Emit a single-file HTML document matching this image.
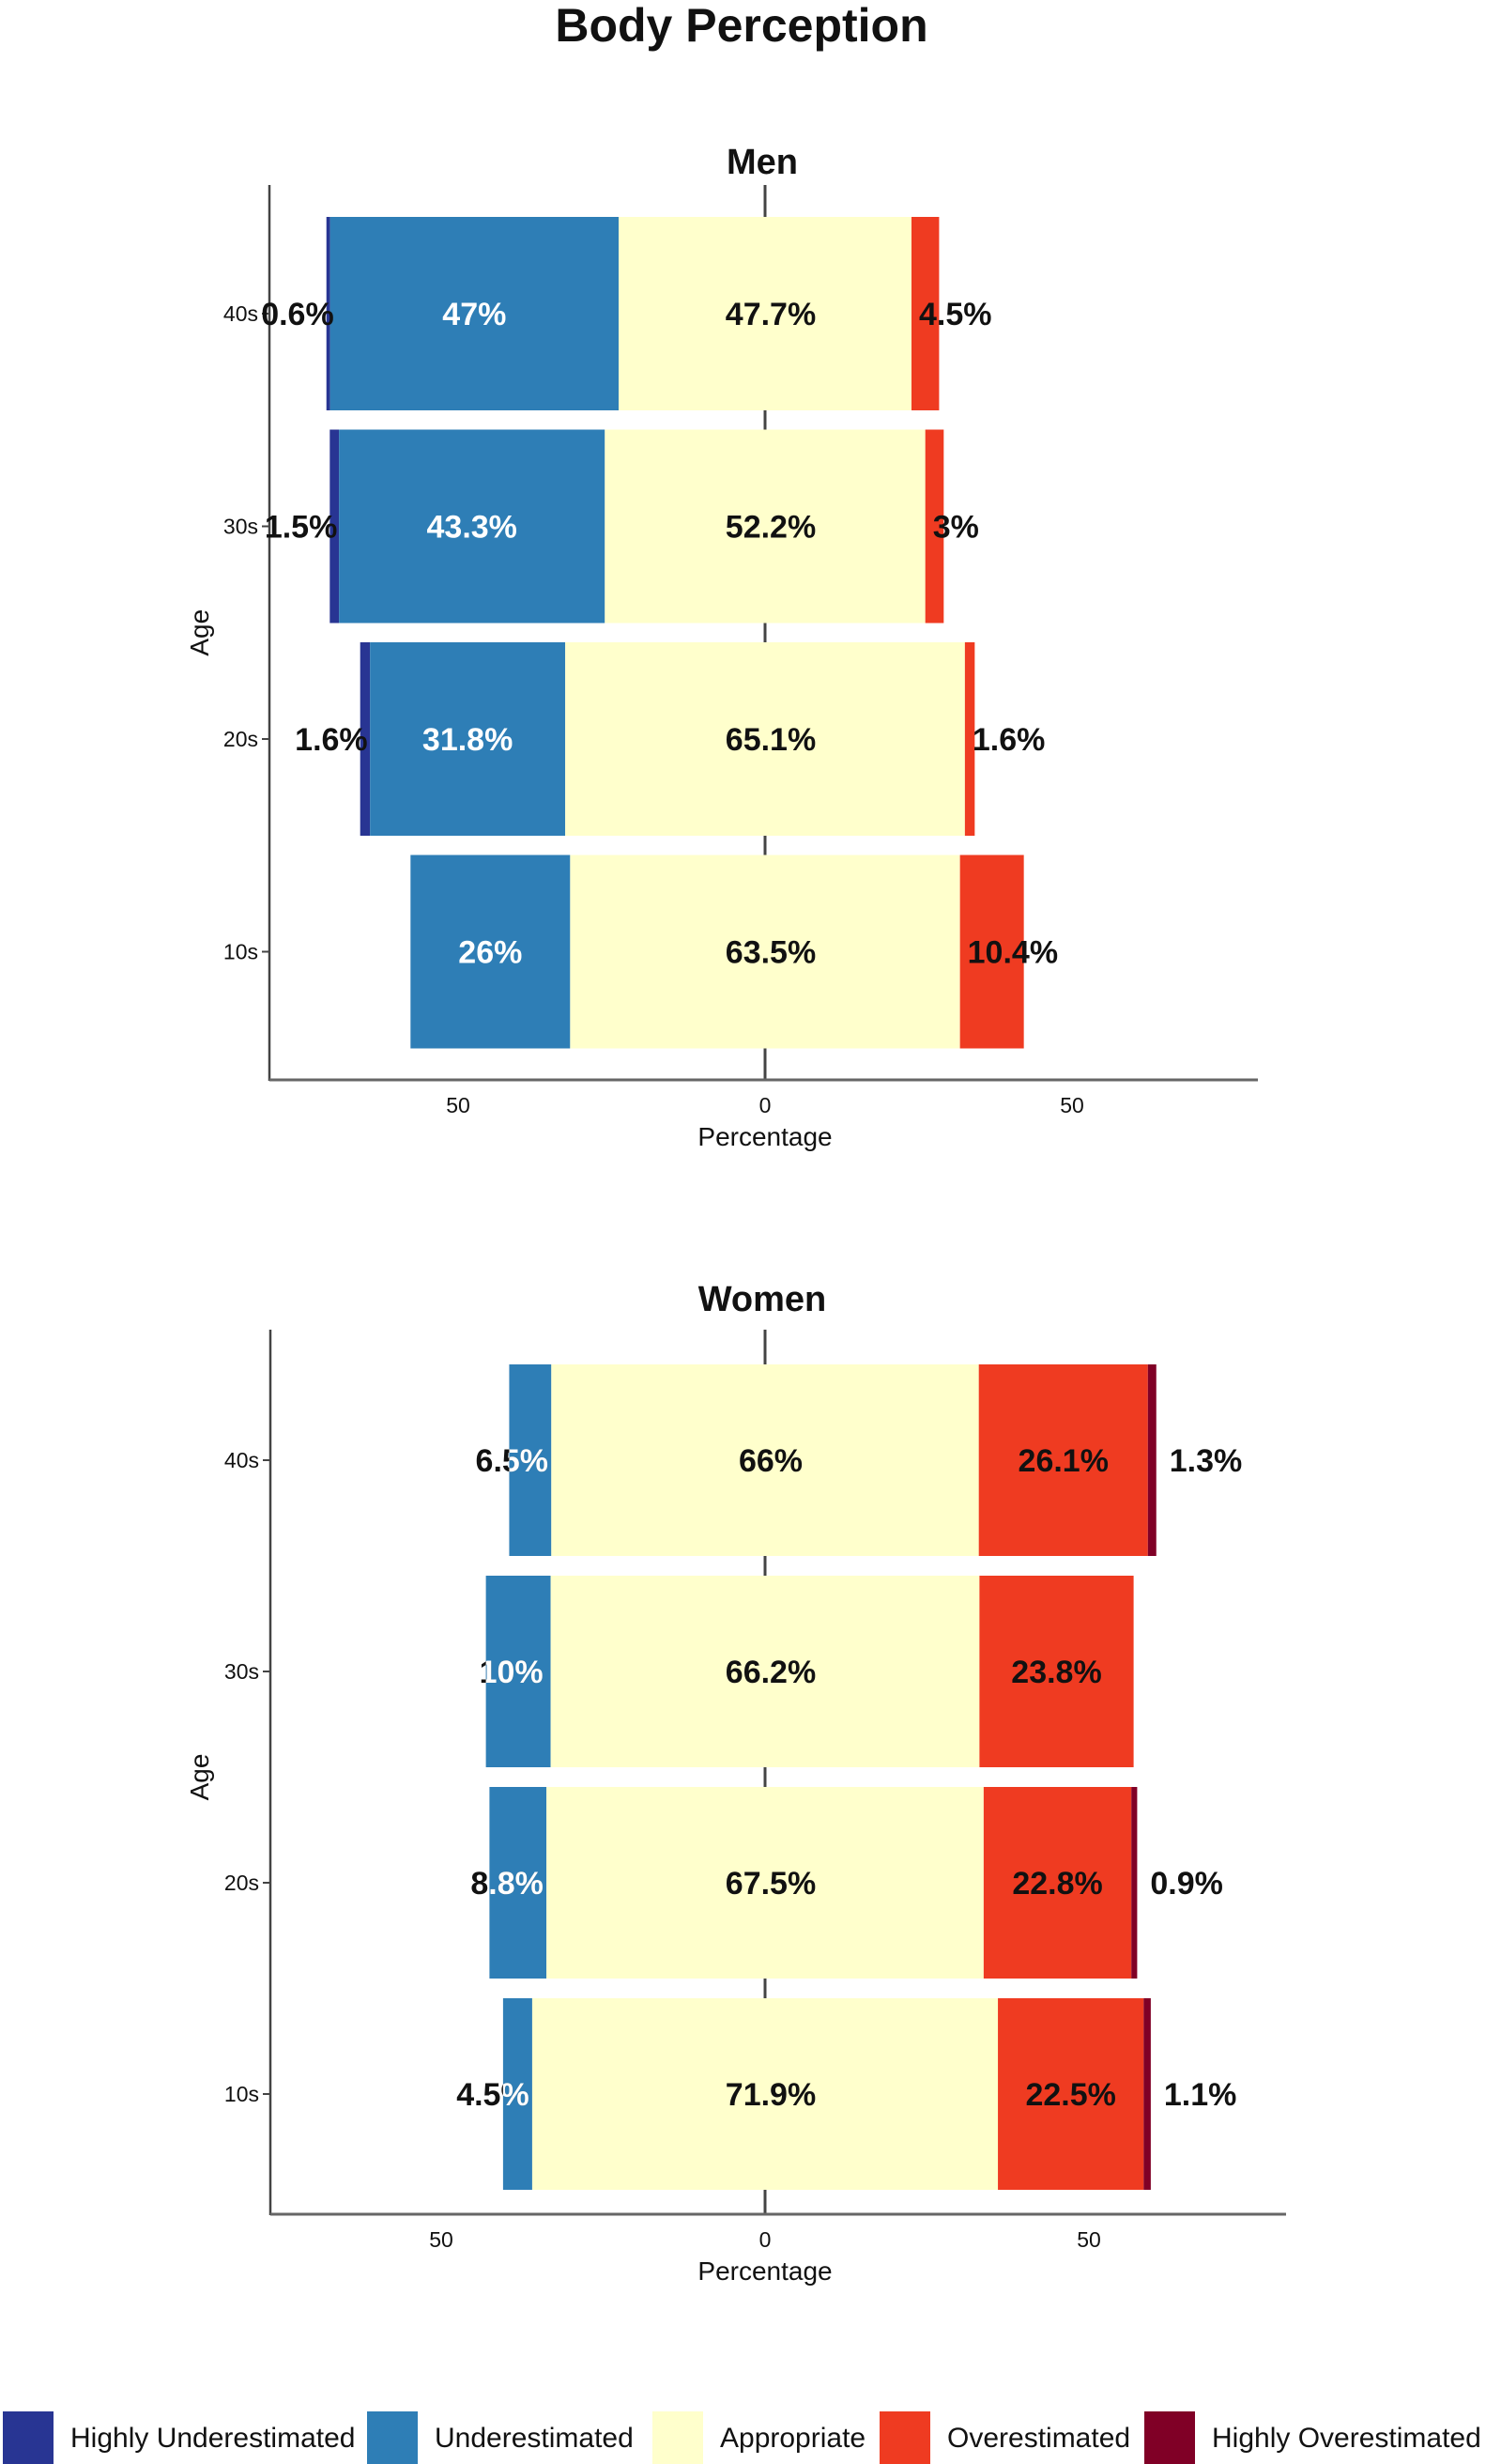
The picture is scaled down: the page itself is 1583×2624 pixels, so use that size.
<!DOCTYPE html>
<html><head><meta charset="utf-8"><style>
html,body{margin:0;padding:0;background:#fff;}
svg{display:block;font-family:"Liberation Sans",sans-serif;}
</style></head><body>
<svg id="chart" width="1583" height="2624" viewBox="0 0 1583 2624" xmlns="http://www.w3.org/2000/svg">
<text x="790" y="44" text-anchor="middle" font-size="50" font-weight="bold" fill="#111">Body Perception</text>
</svg>
<script>
const categories = ["10s","20s","30s","40s"];
const seriesNames = ["Highly Underestimated","Underestimated","Appropriate","Overestimated","Highly Overestimated"];
const menHighlyUnder = [0, 1.6, 1.5, 0.6];
const menUnder = [26, 31.8, 43.3, 47];
const menAppropriate = [63.5, 65.1, 52.2, 47.7];
const menOver = [10.4, 1.6, 3, 4.5];
const menHighlyOver = [0, 0, 0, 0];
const womenHighlyUnder = [0, 0, 0, 0];
const womenUnder = [4.5, 8.8, 10, 6.5];
const womenAppropriate = [71.9, 67.5, 66.2, 66];
const womenOver = [22.5, 22.8, 23.8, 26.1];
const womenHighlyOver = [1.1, 0.9, 0, 1.3];
const xTicks = [-50, 0, 50];
const xTickLabels = ["50","0","50"];

const colors = ["#283593","#2e7eb6","#ffffcc","#ef3b21","#800026"];
const NS = "http://www.w3.org/2000/svg";
const svg = document.getElementById('chart');
function mk(tag, attrs, parent){ const e=document.createElementNS(NS,tag); for(const k in attrs) e.setAttribute(k,attrs[k]); (parent||svg).appendChild(e); return e; }

function panel(cfg){
  const {name,title,titleY,zero,scale,axL,axR,axTop,axBot,rowTop,rowStep,barH,data,style}=cfg;
  const g = mk('g',{});
  
  
  const xs = v => zero + v*scale;
  const yRow = i => rowTop + (categories.length-1-i)*rowStep;
  let t = mk('text',{x:812,y:titleY,'text-anchor':'middle','font-size':38,'font-weight':'bold',fill:'#111'},g);
  t.textContent = title;
  
  
  // zero line
  let zl = mk('line',{x1:xs(0),x2:xs(0),y1:axTop,y2:axBot,stroke:'#444','stroke-width':3},g);
  
  
  // axes
  let ya = mk('line',{x1:axL,x2:axL,y1:axTop,y2:axBot+1,stroke:'#444','stroke-width':2.5},g);
  
  
  let xa = mk('line',{x1:axL,x2:axR,y1:axBot,y2:axBot,stroke:'#666','stroke-width':3},g);
  
  
  xTicks.forEach((v,i)=>{
    let tl = mk('text',{x:xs(v),y:axBot+35,'text-anchor':'middle','font-size':23,fill:'#111'},g);
    tl.textContent = xTickLabels[i];
    
    
  });
  let xt = mk('text',{x:xs(0),y:axBot+70,'text-anchor':'middle','font-size':28,fill:'#111'},g);
  xt.textContent='Percentage';
  
  
  const midY = (yRow(categories.length-1)+yRow(0)+barH)/2;
  let yt = mk('text',{x:0,y:0,'text-anchor':'middle','font-size':28,fill:'#111',transform:`translate(222,${midY}) rotate(-90)`},g);
  yt.textContent='Age';
  
  
  categories.forEach((c,i)=>{
    const y0=yRow(i), cy=y0+barH/2;
    const vals = data.map(s=>s[i]);
    let tk = mk('line',{x1:axL-8,x2:axL,y1:cy,y2:cy,stroke:'#444','stroke-width':2},g);
    
    
    let lb = mk('text',{x:axL-12,y:cy+8,'text-anchor':'end','font-size':23,fill:'#111'},g);
    lb.textContent=c;
    
    
    // segments
    const appHalf = vals[2]/2;
    const starts=[];
    let left = -(appHalf+vals[1]+vals[0]);
    let cur = left;
    vals.forEach((v,k)=>{ starts.push(cur); cur+=v; });
    const segs=[];
    vals.forEach((v,k)=>{
      if(v<=0){segs.push(null);return;}
      const x1=xs(starts[k]), w=v*scale;
      let r = mk('rect',{x:x1,y:y0,width:w,height:barH,fill:colors[k]},g);
      
      
      segs.push({x1:x1,x2:x1+w});
    });
    const barLeft = xs(left), barRight = xs(cur);
    const appEnd = xs(starts[2]+vals[2]);
    function label(txt,x,anchor,fill,key){
      let e = mk('text',{x:x,y:cy+12,'text-anchor':anchor,'font-size':34,'font-weight':'bold',fill:fill},g);
      e.textContent=txt;
      
      
      return e;
    }
    if(vals[0]>0) label(vals[0]+'%', barLeft+8, 'end', '#111','highly-under');
    if(vals[1]>0){
      if(style==='men') label(vals[1]+'%', (segs[1].x1+segs[1].x2)/2, 'middle', '#fff','under');
      else {
        const cx = xs(starts[2]) - 42;
        label(vals[1]+'%', cx, 'middle', '#111','under');
        const cid = name+'clip'+i;
        const cp = mk('clipPath',{id:cid},g);
        mk('rect',{x:segs[1].x1,y:y0,width:segs[1].x2-segs[1].x1,height:barH},cp);
        const w = label(vals[1]+'%', cx, 'middle', '#fff','under-overlay');
        w.setAttribute('clip-path','url(#'+cid+')');
      }
    }
    if(vals[2]>0) label(vals[2]+'%', xs(0)+6, 'middle', '#111','appropriate');
    if(vals[3]>0){
      if(style==='men') label(vals[3]+'%', appEnd+8, 'start', '#111','over');
      else label(vals[3]+'%', (segs[3].x1+segs[3].x2)/2, 'middle', '#111','over');
    }
    if(vals[4]>0) label(vals[4]+'%', barRight+14, 'start', '#111','highly-over');
  });
}

panel({name:'men',title:'Men',titleY:185,zero:815,scale:6.54,axL:287,axR:1340,axTop:197,axBot:1150,rowTop:231,rowStep:226.5,barH:206,style:'men',
  data:[menHighlyUnder,menUnder,menAppropriate,menOver,menHighlyOver]});
panel({name:'women',title:'Women',titleY:1396,zero:815,scale:6.9,axL:288,axR:1370,axTop:1416,axBot:2358,rowTop:1453,rowStep:225,barH:204,style:'women',
  data:[womenHighlyUnder,womenUnder,womenAppropriate,womenOver,womenHighlyOver]});

// legend
const legX = [3,391,695,937,1219];
const lg = mk('g',{});


seriesNames.forEach((s,k)=>{
  const r = mk('rect',{x:legX[k],y:2568,width:54,height:56,fill:colors[k]},lg);
  
  
  const t = mk('text',{x:legX[k]+72,y:2606,'font-size':30,fill:'#111'},lg);
  t.textContent=s;
  
  
});
</script>
</body></html>
